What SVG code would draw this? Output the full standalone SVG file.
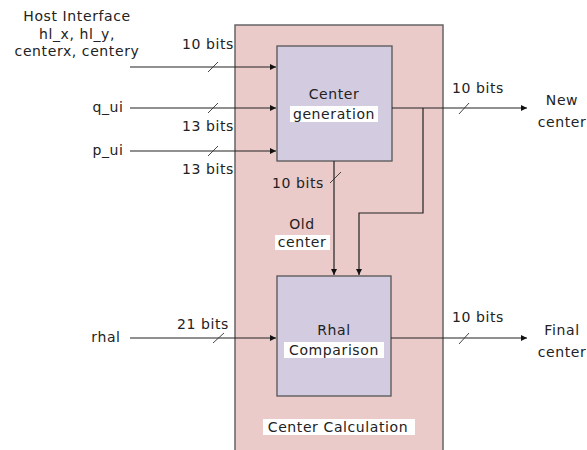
<svg xmlns="http://www.w3.org/2000/svg" width="587" height="450" viewBox="0 0 587 450">
<defs>
<marker id="arr" viewBox="0 0 10 10" refX="10" refY="5" markerWidth="9" markerHeight="6" orient="auto" markerUnits="userSpaceOnUse">
<path d="M0,0 L10,5 L0,10 z" fill="#111"/>
</marker>
<style>
text{font-family:"DejaVu Sans","Liberation Sans",sans-serif;font-size:14px;letter-spacing:0.6px;fill:#222}
.c{text-anchor:middle}
.ln{stroke:#222;stroke-width:1.2;fill:none}
.tk{stroke:#333;stroke-width:0.9}
.bg{fill:#fff}
</style>
</defs>
<rect width="587" height="450" fill="#fff"/>
<g id="center-calculation">
<rect x="235" y="25" width="208" height="440" fill="#ebcaca" stroke="#666" stroke-width="1.5"/>
<rect x="263" y="419" width="152" height="16" class="bg"/>
<text x="338" y="432" class="c">Center Calculation</text>
</g>
<g id="center-generation">
<rect x="277" y="46" width="115" height="115" fill="#d3cbe0" stroke="#555" stroke-width="1.3"/>
<rect x="290" y="106" width="88" height="16" class="bg"/>
<text x="334" y="99" class="c">Center</text>
<text x="334" y="119" class="c">generation</text>
</g>
<g id="rhal-comparison">
<rect x="277" y="276" width="114" height="120" fill="#d3cbe0" stroke="#555" stroke-width="1.3"/>
<rect x="284" y="342" width="100" height="16" class="bg"/>
<text x="334" y="335" class="c">Rhal</text>
<text x="334" y="355" class="c">Comparison</text>
</g>
<g id="host-interface">
<text x="77" y="21" class="c">Host Interface</text>
<text x="77" y="39" class="c">hl_x, hl_y,</text>
<text x="77" y="56" class="c">centerx, centery</text>
</g>
<g id="q_ui"><text x="108" y="112" class="c">q_ui</text></g>
<g id="p_ui"><text x="108" y="155" class="c">p_ui</text></g>
<g id="rhal"><text x="106" y="342" class="c">rhal</text></g>
<g id="new-center">
<text x="562" y="105" class="c">New</text>
<text x="562" y="127" class="c">center</text>
</g>
<g id="final-center">
<text x="562" y="335" class="c">Final</text>
<text x="562" y="357" class="c">center</text>
</g>
<g id="old-center">
<rect x="275" y="235" width="55" height="15" class="bg"/>
<text x="302" y="229" class="c">Old</text>
<text x="302" y="247" class="c">center</text>
</g>
<g id="connectors">
<path class="ln" d="M130,67 H276" marker-end="url(#arr)"/>
<path class="ln" d="M130,108 H276" marker-end="url(#arr)"/>
<path class="ln" d="M130,151 H276" marker-end="url(#arr)"/>
<path class="ln" d="M130,338 H276" marker-end="url(#arr)"/>
<path class="ln" d="M392,108 H527" marker-end="url(#arr)"/>
<path class="ln" d="M391,338 H527" marker-end="url(#arr)"/>
<path class="ln" d="M334,161 V275" marker-end="url(#arr)"/>
<path class="ln" d="M423,108 V213 H359 V275" marker-end="url(#arr)"/>
<line class="tk" x1="208" y1="72" x2="218" y2="62"/>
<line class="tk" x1="208" y1="113" x2="218" y2="103"/>
<line class="tk" x1="208" y1="156" x2="218" y2="146"/>
<line class="tk" x1="213" y1="343" x2="224" y2="333"/>
<line class="tk" x1="459" y1="114" x2="469" y2="103"/>
<line class="tk" x1="459" y1="344" x2="469" y2="333"/>
<line class="tk" x1="330" y1="183" x2="341" y2="172"/>
</g>
<g id="labels">
<text x="208" y="49" class="c">10 bits</text>
<text x="208" y="131" class="c">13 bits</text>
<text x="208" y="174" class="c">13 bits</text>
<text x="203" y="329" class="c">21 bits</text>
<text x="478" y="93" class="c">10 bits</text>
<text x="478" y="322" class="c">10 bits</text>
<text x="298" y="188" class="c">10 bits</text>
</g>
</svg>
